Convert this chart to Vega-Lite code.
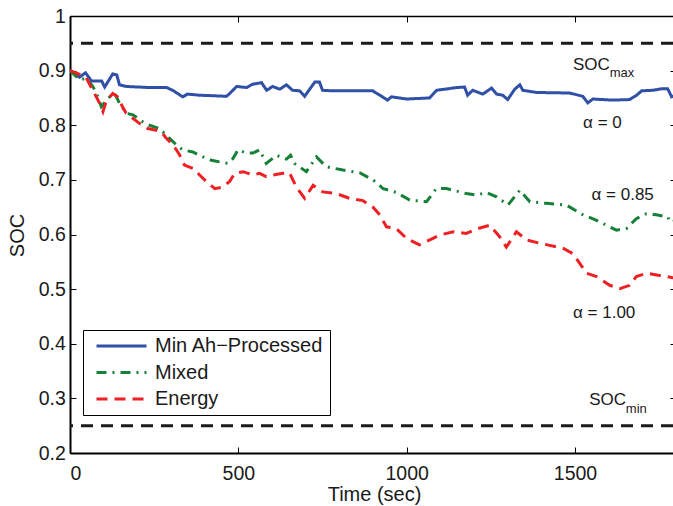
{
  "$schema": "https://vega.github.io/schema/vega-lite/v6.json",
  "width": 603,
  "height": 437,
  "autosize": "none",
  "padding": {"left": 70, "top": 16, "right": 0, "bottom": 53},
  "background": "white",
  "config": {
    "font": "Liberation Sans",
    "view": {"stroke": null},
    "axis": {
      "grid": false,
      "domainColor": "black",
      "tickColor": "black",
      "labelColor": "#1a1a1a",
      "titleColor": "#1a1a1a",
      "labelFont": "Liberation Sans",
      "titleFont": "Liberation Sans",
      "labelFontSize": 19.5,
      "titleFontSize": 20,
      "titleFontWeight": "normal",
      "domainWidth": 1.5,
      "tickWidth": 1
    }
  },
  "datasets": {
    "series": [
      {"s": "Min Ah−Processed", "t": 0, "v": 0.901},
      {"s": "Min Ah−Processed", "t": 28, "v": 0.888},
      {"s": "Min Ah−Processed", "t": 46, "v": 0.896},
      {"s": "Min Ah−Processed", "t": 64, "v": 0.881},
      {"s": "Min Ah−Processed", "t": 94, "v": 0.881},
      {"s": "Min Ah−Processed", "t": 103, "v": 0.870},
      {"s": "Min Ah−Processed", "t": 127, "v": 0.894},
      {"s": "Min Ah−Processed", "t": 139, "v": 0.892},
      {"s": "Min Ah−Processed", "t": 147, "v": 0.874},
      {"s": "Min Ah−Processed", "t": 168, "v": 0.871},
      {"s": "Min Ah−Processed", "t": 236, "v": 0.869},
      {"s": "Min Ah−Processed", "t": 287, "v": 0.869},
      {"s": "Min Ah−Processed", "t": 305, "v": 0.864},
      {"s": "Min Ah−Processed", "t": 335, "v": 0.852},
      {"s": "Min Ah−Processed", "t": 349, "v": 0.857},
      {"s": "Min Ah−Processed", "t": 385, "v": 0.855},
      {"s": "Min Ah−Processed", "t": 465, "v": 0.853},
      {"s": "Min Ah−Processed", "t": 474, "v": 0.858},
      {"s": "Min Ah−Processed", "t": 495, "v": 0.871},
      {"s": "Min Ah−Processed", "t": 525, "v": 0.869},
      {"s": "Min Ah−Processed", "t": 542, "v": 0.875},
      {"s": "Min Ah−Processed", "t": 569, "v": 0.878},
      {"s": "Min Ah−Processed", "t": 584, "v": 0.864},
      {"s": "Min Ah−Processed", "t": 602, "v": 0.871},
      {"s": "Min Ah−Processed", "t": 623, "v": 0.866},
      {"s": "Min Ah−Processed", "t": 643, "v": 0.874},
      {"s": "Min Ah−Processed", "t": 661, "v": 0.864},
      {"s": "Min Ah−Processed", "t": 682, "v": 0.863},
      {"s": "Min Ah−Processed", "t": 697, "v": 0.853},
      {"s": "Min Ah−Processed", "t": 727, "v": 0.879},
      {"s": "Min Ah−Processed", "t": 741, "v": 0.879},
      {"s": "Min Ah−Processed", "t": 750, "v": 0.864},
      {"s": "Min Ah−Processed", "t": 780, "v": 0.863},
      {"s": "Min Ah−Processed", "t": 899, "v": 0.863},
      {"s": "Min Ah−Processed", "t": 928, "v": 0.852},
      {"s": "Min Ah−Processed", "t": 943, "v": 0.846},
      {"s": "Min Ah−Processed", "t": 955, "v": 0.852},
      {"s": "Min Ah−Processed", "t": 1000, "v": 0.848},
      {"s": "Min Ah−Processed", "t": 1068, "v": 0.850},
      {"s": "Min Ah−Processed", "t": 1089, "v": 0.864},
      {"s": "Min Ah−Processed", "t": 1113, "v": 0.866},
      {"s": "Min Ah−Processed", "t": 1148, "v": 0.869},
      {"s": "Min Ah−Processed", "t": 1172, "v": 0.870},
      {"s": "Min Ah−Processed", "t": 1181, "v": 0.855},
      {"s": "Min Ah−Processed", "t": 1196, "v": 0.864},
      {"s": "Min Ah−Processed", "t": 1226, "v": 0.857},
      {"s": "Min Ah−Processed", "t": 1252, "v": 0.868},
      {"s": "Min Ah−Processed", "t": 1267, "v": 0.857},
      {"s": "Min Ah−Processed", "t": 1285, "v": 0.855},
      {"s": "Min Ah−Processed", "t": 1300, "v": 0.847},
      {"s": "Min Ah−Processed", "t": 1321, "v": 0.866},
      {"s": "Min Ah−Processed", "t": 1336, "v": 0.874},
      {"s": "Min Ah−Processed", "t": 1345, "v": 0.864},
      {"s": "Min Ah−Processed", "t": 1386, "v": 0.860},
      {"s": "Min Ah−Processed", "t": 1484, "v": 0.859},
      {"s": "Min Ah−Processed", "t": 1523, "v": 0.853},
      {"s": "Min Ah−Processed", "t": 1538, "v": 0.841},
      {"s": "Min Ah−Processed", "t": 1553, "v": 0.848},
      {"s": "Min Ah−Processed", "t": 1612, "v": 0.846},
      {"s": "Min Ah−Processed", "t": 1662, "v": 0.847},
      {"s": "Min Ah−Processed", "t": 1683, "v": 0.855},
      {"s": "Min Ah−Processed", "t": 1698, "v": 0.863},
      {"s": "Min Ah−Processed", "t": 1731, "v": 0.864},
      {"s": "Min Ah−Processed", "t": 1760, "v": 0.867},
      {"s": "Min Ah−Processed", "t": 1775, "v": 0.867},
      {"s": "Min Ah−Processed", "t": 1787, "v": 0.852},
      {"s": "Min Ah−Processed", "t": 1800, "v": 0.855},

      {"s": "Mixed", "t": 0, "v": 0.900},
      {"s": "Mixed", "t": 29, "v": 0.883},
      {"s": "Mixed", "t": 48, "v": 0.886},
      {"s": "Mixed", "t": 68, "v": 0.871},
      {"s": "Mixed", "t": 83, "v": 0.852},
      {"s": "Mixed", "t": 93, "v": 0.834},
      {"s": "Mixed", "t": 118, "v": 0.852},
      {"s": "Mixed", "t": 133, "v": 0.858},
      {"s": "Mixed", "t": 147, "v": 0.840},
      {"s": "Mixed", "t": 167, "v": 0.822},
      {"s": "Mixed", "t": 187, "v": 0.819},
      {"s": "Mixed", "t": 217, "v": 0.806},
      {"s": "Mixed", "t": 236, "v": 0.800},
      {"s": "Mixed", "t": 266, "v": 0.794},
      {"s": "Mixed", "t": 276, "v": 0.788},
      {"s": "Mixed", "t": 301, "v": 0.773},
      {"s": "Mixed", "t": 321, "v": 0.761},
      {"s": "Mixed", "t": 335, "v": 0.755},
      {"s": "Mixed", "t": 365, "v": 0.751},
      {"s": "Mixed", "t": 395, "v": 0.742},
      {"s": "Mixed", "t": 420, "v": 0.736},
      {"s": "Mixed", "t": 444, "v": 0.733},
      {"s": "Mixed", "t": 469, "v": 0.730},
      {"s": "Mixed", "t": 484, "v": 0.739},
      {"s": "Mixed", "t": 499, "v": 0.755},
      {"s": "Mixed", "t": 524, "v": 0.749},
      {"s": "Mixed", "t": 543, "v": 0.749},
      {"s": "Mixed", "t": 563, "v": 0.755},
      {"s": "Mixed", "t": 583, "v": 0.730},
      {"s": "Mixed", "t": 613, "v": 0.745},
      {"s": "Mixed", "t": 643, "v": 0.738},
      {"s": "Mixed", "t": 655, "v": 0.745},
      {"s": "Mixed", "t": 667, "v": 0.730},
      {"s": "Mixed", "t": 702, "v": 0.715},
      {"s": "Mixed", "t": 732, "v": 0.742},
      {"s": "Mixed", "t": 761, "v": 0.724},
      {"s": "Mixed", "t": 811, "v": 0.718},
      {"s": "Mixed", "t": 860, "v": 0.713},
      {"s": "Mixed", "t": 900, "v": 0.700},
      {"s": "Mixed", "t": 930, "v": 0.684},
      {"s": "Mixed", "t": 969, "v": 0.677},
      {"s": "Mixed", "t": 1009, "v": 0.663},
      {"s": "Mixed", "t": 1059, "v": 0.660},
      {"s": "Mixed", "t": 1088, "v": 0.684},
      {"s": "Mixed", "t": 1118, "v": 0.684},
      {"s": "Mixed", "t": 1138, "v": 0.681},
      {"s": "Mixed", "t": 1177, "v": 0.675},
      {"s": "Mixed", "t": 1207, "v": 0.672},
      {"s": "Mixed", "t": 1237, "v": 0.677},
      {"s": "Mixed", "t": 1267, "v": 0.669},
      {"s": "Mixed", "t": 1301, "v": 0.654},
      {"s": "Mixed", "t": 1336, "v": 0.681},
      {"s": "Mixed", "t": 1366, "v": 0.660},
      {"s": "Mixed", "t": 1415, "v": 0.657},
      {"s": "Mixed", "t": 1474, "v": 0.654},
      {"s": "Mixed", "t": 1524, "v": 0.636},
      {"s": "Mixed", "t": 1564, "v": 0.626},
      {"s": "Mixed", "t": 1603, "v": 0.614},
      {"s": "Mixed", "t": 1623, "v": 0.608},
      {"s": "Mixed", "t": 1653, "v": 0.611},
      {"s": "Mixed", "t": 1682, "v": 0.629},
      {"s": "Mixed", "t": 1712, "v": 0.638},
      {"s": "Mixed", "t": 1742, "v": 0.636},
      {"s": "Mixed", "t": 1776, "v": 0.632},
      {"s": "Mixed", "t": 1781, "v": 0.623},
      {"s": "Mixed", "t": 1800, "v": 0.625},

      {"s": "Energy", "t": 0, "v": 0.900},
      {"s": "Energy", "t": 29, "v": 0.893},
      {"s": "Energy", "t": 48, "v": 0.887},
      {"s": "Energy", "t": 73, "v": 0.858},
      {"s": "Energy", "t": 88, "v": 0.840},
      {"s": "Energy", "t": 98, "v": 0.825},
      {"s": "Energy", "t": 108, "v": 0.845},
      {"s": "Energy", "t": 127, "v": 0.858},
      {"s": "Energy", "t": 141, "v": 0.852},
      {"s": "Energy", "t": 156, "v": 0.834},
      {"s": "Energy", "t": 167, "v": 0.822},
      {"s": "Energy", "t": 207, "v": 0.803},
      {"s": "Energy", "t": 231, "v": 0.794},
      {"s": "Energy", "t": 256, "v": 0.791},
      {"s": "Energy", "t": 271, "v": 0.788},
      {"s": "Energy", "t": 286, "v": 0.776},
      {"s": "Energy", "t": 301, "v": 0.767},
      {"s": "Energy", "t": 316, "v": 0.755},
      {"s": "Energy", "t": 326, "v": 0.745},
      {"s": "Energy", "t": 340, "v": 0.727},
      {"s": "Energy", "t": 365, "v": 0.721},
      {"s": "Energy", "t": 385, "v": 0.709},
      {"s": "Energy", "t": 405, "v": 0.697},
      {"s": "Energy", "t": 430, "v": 0.684},
      {"s": "Energy", "t": 454, "v": 0.687},
      {"s": "Energy", "t": 474, "v": 0.697},
      {"s": "Energy", "t": 489, "v": 0.712},
      {"s": "Energy", "t": 514, "v": 0.715},
      {"s": "Energy", "t": 543, "v": 0.709},
      {"s": "Energy", "t": 563, "v": 0.712},
      {"s": "Energy", "t": 583, "v": 0.706},
      {"s": "Energy", "t": 603, "v": 0.709},
      {"s": "Energy", "t": 632, "v": 0.712},
      {"s": "Energy", "t": 652, "v": 0.713},
      {"s": "Energy", "t": 672, "v": 0.687},
      {"s": "Energy", "t": 697, "v": 0.666},
      {"s": "Energy", "t": 722, "v": 0.690},
      {"s": "Energy", "t": 751, "v": 0.678},
      {"s": "Energy", "t": 791, "v": 0.675},
      {"s": "Energy", "t": 831, "v": 0.666},
      {"s": "Energy", "t": 870, "v": 0.662},
      {"s": "Energy", "t": 900, "v": 0.650},
      {"s": "Energy", "t": 920, "v": 0.636},
      {"s": "Energy", "t": 940, "v": 0.614},
      {"s": "Energy", "t": 969, "v": 0.611},
      {"s": "Energy", "t": 999, "v": 0.593},
      {"s": "Energy", "t": 1038, "v": 0.581},
      {"s": "Energy", "t": 1078, "v": 0.593},
      {"s": "Energy", "t": 1098, "v": 0.599},
      {"s": "Energy", "t": 1138, "v": 0.605},
      {"s": "Energy", "t": 1177, "v": 0.602},
      {"s": "Energy", "t": 1212, "v": 0.611},
      {"s": "Energy", "t": 1247, "v": 0.617},
      {"s": "Energy", "t": 1276, "v": 0.596},
      {"s": "Energy", "t": 1296, "v": 0.577},
      {"s": "Energy", "t": 1326, "v": 0.605},
      {"s": "Energy", "t": 1356, "v": 0.590},
      {"s": "Energy", "t": 1395, "v": 0.584},
      {"s": "Energy", "t": 1464, "v": 0.575},
      {"s": "Energy", "t": 1494, "v": 0.565},
      {"s": "Energy", "t": 1514, "v": 0.547},
      {"s": "Energy", "t": 1534, "v": 0.529},
      {"s": "Energy", "t": 1564, "v": 0.523},
      {"s": "Energy", "t": 1603, "v": 0.507},
      {"s": "Energy", "t": 1633, "v": 0.501},
      {"s": "Energy", "t": 1662, "v": 0.507},
      {"s": "Energy", "t": 1682, "v": 0.523},
      {"s": "Energy", "t": 1712, "v": 0.529},
      {"s": "Energy", "t": 1742, "v": 0.526},
      {"s": "Energy", "t": 1772, "v": 0.523},
      {"s": "Energy", "t": 1800, "v": 0.520}
    ],
    "limits": [{"v": 0.95}, {"v": 0.25}],
    "notes": [
      {"t": 1494, "v": 0.902, "label": "SOC"},
      {"t": 1524, "v": 0.795, "label": "α = 0"},
      {"t": 1549, "v": 0.664, "label": "α = 0.85"},
      {"t": 1494, "v": 0.447, "label": "α = 1.00"},
      {"t": 1542, "v": 0.2875, "label": "SOC"}
    ],
    "subs": [
      {"t": 1603, "v": 0.889, "label": "max"},
      {"t": 1651, "v": 0.2735, "label": "min"}
    ]
  },
  "resolve": {"axis": {"x": "independent", "y": "independent"}},
  "layer": [
    {
      "data": {"name": "limits"},
      "mark": {"type": "rule", "strokeWidth": 3, "strokeDash": [12, 8], "color": "#1a1a1a"},
      "encoding": {
        "y": {"field": "v", "type": "quantitative", "scale": {"domain": [0.2, 1], "nice": false, "zero": false}, "axis": null}
      }
    },
    {
      "data": {"name": "series"},
      "mark": {"type": "line", "strokeWidth": 3, "clip": true},
      "encoding": {
        "x": {
          "field": "t", "type": "quantitative",
          "scale": {"domain": [0, 1791], "nice": false, "zero": false},
          "axis": {
            "orient": "bottom", "values": [0, 500, 1000, 1500], "format": "d",
            "tickSize": -6, "labelPadding": 17, "domainWidth": 2,
            "title": "Time (sec)", "titleX": 304, "titleY": 47,
            "titleAlign": "center", "titleBaseline": "alphabetic"
          }
        },
        "y": {
          "field": "v", "type": "quantitative",
          "scale": {"domain": [0.2, 1], "nice": false, "zero": false},
          "axis": {
            "orient": "left", "values": [0.2, 0.3, 0.4, 0.5, 0.6, 0.7, 0.8, 0.9, 1], "format": ".1~f",
            "tickSize": -6, "labelPadding": 10.7, "domainWidth": 2,
            "title": "SOC", "titleX": -53, "titleY": 219, "titleAngle": 270,
            "titleAlign": "center", "titleBaseline": "middle"
          }
        },
        "color": {
          "field": "s", "type": "nominal",
          "scale": {"domain": ["Min Ah−Processed", "Mixed", "Energy"], "range": ["#3050A8", "#168038", "#EE2024"]},
          "legend": {
            "title": null, "orient": "none", "legendX": 13, "legendY": 314,
            "symbolType": "stroke", "symbolSize": 2500, "symbolStrokeWidth": 3,
            "labelFontSize": 20, "labelFont": "Liberation Sans", "labelColor": "#1a1a1a",
            "strokeColor": "black", "fillColor": "white", "padding": 6,
            "symbolOffset": 6, "labelOffset": 7, "rowPadding": 6.5, "clipHeight": 20,
            "cornerRadius": 0, "labelLimit": 300
          }
        },
        "strokeDash": {
          "field": "s", "type": "nominal",
          "scale": {"domain": ["Min Ah−Processed", "Mixed", "Energy"], "range": [[1, 0], [10, 6, 2, 6], [11, 7]]},
          "legend": {
            "title": null, "orient": "none", "legendX": 13, "legendY": 314,
            "symbolType": "stroke", "symbolSize": 2500, "symbolStrokeWidth": 3,
            "labelFontSize": 20, "labelFont": "Liberation Sans", "labelColor": "#1a1a1a",
            "strokeColor": "black", "fillColor": "white", "padding": 6,
            "symbolOffset": 6, "labelOffset": 7, "rowPadding": 6.5, "clipHeight": 20,
            "cornerRadius": 0, "labelLimit": 300
          }
        }
      }
    },
    {
      "data": {"name": "series"},
      "mark": {"type": "point", "opacity": 0},
      "encoding": {
        "x": {
          "field": "t", "type": "quantitative",
          "axis": {"orient": "top", "values": [0, 500, 1000, 1500], "labels": false, "title": null, "tickSize": -6, "domainWidth": 1.5}
        },
        "y": {
          "field": "v", "type": "quantitative",
          "axis": {"orient": "right", "values": [0.2, 0.3, 0.4, 0.5, 0.6, 0.7, 0.8, 0.9, 1], "labels": false, "title": null, "tickSize": -3, "domain": false}
        }
      }
    },
    {
      "data": {"name": "notes"},
      "mark": {"type": "text", "align": "left", "baseline": "alphabetic", "fontSize": 17, "font": "Liberation Sans", "color": "#1a1a1a"},
      "encoding": {
        "x": {"field": "t", "type": "quantitative", "axis": null},
        "y": {"field": "v", "type": "quantitative", "axis": null},
        "text": {"field": "label"}
      }
    },
    {
      "data": {"name": "subs"},
      "mark": {"type": "text", "align": "left", "baseline": "alphabetic", "fontSize": 13, "font": "Liberation Sans", "color": "#1a1a1a"},
      "encoding": {
        "x": {"field": "t", "type": "quantitative", "axis": null},
        "y": {"field": "v", "type": "quantitative", "axis": null},
        "text": {"field": "label"}
      }
    }
  ]
}
